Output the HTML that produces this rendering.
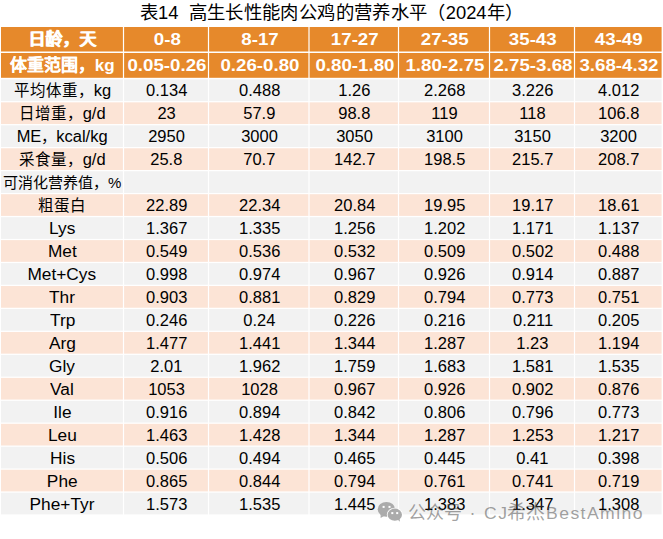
<!DOCTYPE html>
<html lang="zh-CN"><head><meta charset="utf-8">
<style>
html,body{margin:0;padding:0;background:#fff;width:663px;height:539px;overflow:hidden;position:relative}
body{font-family:"Liberation Sans",sans-serif;color:#111}
svg.bg{position:absolute;left:0;top:0}
.t{position:absolute;left:0;top:1px;width:663px;height:27px;line-height:25px;text-align:center;font-size:18px;color:#000;white-space:pre;transform:scaleX(1.02)}
.h,.d{position:absolute;text-align:center;white-space:nowrap}
.h{color:#fff;font-weight:bold;font-size:17px;padding-top:1px;box-sizing:border-box}
.d{font-size:15.5px;color:#000;padding-top:1px;box-sizing:border-box}
.d .n{display:inline-block;transform:translateX(0.7px) scaleX(1.03);font-size:16px}
.h .n{display:inline-block;transform:translateX(1px) scaleX(1.1)}
.cj{text-shadow:0.4px 0 0 #fff}
.d .a{display:inline-block;transform:scaleX(1.08);font-size:16px}
.l{text-align:left}
.cz{font-size:15.5px}
.d .am{transform:scaleX(1.03)}
.wm{position:absolute;top:501px;font-size:17.5px;line-height:24px;color:rgba(70,70,70,0.5);white-space:nowrap}
.ws{display:inline-block;transform-origin:0 50%;transform:scaleX(1.1);font-size:16px;letter-spacing:1.3px}
.wc{font-size:18px}
.wc2{font-size:19px}
</style></head><body>
<svg class="bg" width="663" height="539">
<rect x="1" y="27" width="660.6" height="24.5" fill="#E6892B"/>
<rect x="1" y="53" width="660.6" height="24.799999999999997" fill="#E6892B"/>
<rect x="1" y="79.40" width="660.6" height="21.7" fill="#F2F2F2"/>
<rect x="1" y="102.36" width="660.6" height="21.7" fill="#FCE4D6"/>
<rect x="1" y="125.32" width="660.6" height="21.7" fill="#F2F2F2"/>
<rect x="1" y="148.28" width="660.6" height="21.7" fill="#FCE4D6"/>
<rect x="1" y="171.24" width="660.6" height="21.7" fill="#F2F2F2"/>
<rect x="1" y="194.20" width="660.6" height="21.7" fill="#FCE4D6"/>
<rect x="1" y="217.16" width="660.6" height="21.7" fill="#F2F2F2"/>
<rect x="1" y="240.12" width="660.6" height="21.7" fill="#FCE4D6"/>
<rect x="1" y="263.08" width="660.6" height="21.7" fill="#F2F2F2"/>
<rect x="1" y="286.04" width="660.6" height="21.7" fill="#FCE4D6"/>
<rect x="1" y="309.00" width="660.6" height="21.7" fill="#F2F2F2"/>
<rect x="1" y="331.96" width="660.6" height="21.7" fill="#FCE4D6"/>
<rect x="1" y="354.92" width="660.6" height="21.7" fill="#F2F2F2"/>
<rect x="1" y="377.88" width="660.6" height="21.7" fill="#FCE4D6"/>
<rect x="1" y="400.84" width="660.6" height="21.7" fill="#F2F2F2"/>
<rect x="1" y="423.80" width="660.6" height="21.7" fill="#FCE4D6"/>
<rect x="1" y="446.76" width="660.6" height="21.7" fill="#F2F2F2"/>
<rect x="1" y="469.72" width="660.6" height="21.7" fill="#FCE4D6"/>
<rect x="1" y="492.68" width="660.6" height="21.7" fill="#F2F2F2"/>
<rect x="122.90" y="27" width="1.2" height="490" fill="#fff"/>
<rect x="207.90" y="27" width="1.2" height="490" fill="#fff"/>
<rect x="308.40" y="27" width="1.2" height="490" fill="#fff"/>
<rect x="397.90" y="27" width="1.2" height="490" fill="#fff"/>
<rect x="488.90" y="27" width="1.2" height="490" fill="#fff"/>
<rect x="573.90" y="27" width="1.2" height="490" fill="#fff"/>
</svg>
<div class="t">表14  高生长性能肉公鸡的营养水平（2024年）</div>
<div class="h" style="left:1.0px;width:122.5px;top:27.00px;height:24.50px;line-height:24.50px"><span class="cj">日龄，天</span></div>
<div class="h" style="left:123.5px;width:85.0px;top:27.00px;height:24.50px;line-height:24.50px"><span class="n">0-8</span></div>
<div class="h" style="left:208.5px;width:100.5px;top:27.00px;height:24.50px;line-height:24.50px"><span class="n">8-17</span></div>
<div class="h" style="left:309.0px;width:89.5px;top:27.00px;height:24.50px;line-height:24.50px"><span class="n">17-27</span></div>
<div class="h" style="left:398.5px;width:91.0px;top:27.00px;height:24.50px;line-height:24.50px"><span class="n">27-35</span></div>
<div class="h" style="left:489.5px;width:85.0px;top:27.00px;height:24.50px;line-height:24.50px"><span class="n">35-43</span></div>
<div class="h" style="left:574.5px;width:87.1px;top:27.00px;height:24.50px;line-height:24.50px"><span class="n">43-49</span></div>
<div class="h" style="left:1.0px;width:122.5px;top:53.00px;height:24.80px;line-height:24.80px"><span class="cj">体重范围，</span>kg</div>
<div class="h" style="left:123.5px;width:85.0px;top:53.00px;height:24.80px;line-height:24.80px"><span class="n">0.05-0.26</span></div>
<div class="h" style="left:208.5px;width:100.5px;top:53.00px;height:24.80px;line-height:24.80px"><span class="n">0.26-0.80</span></div>
<div class="h" style="left:309.0px;width:89.5px;top:53.00px;height:24.80px;line-height:24.80px"><span class="n">0.80-1.80</span></div>
<div class="h" style="left:398.5px;width:91.0px;top:53.00px;height:24.80px;line-height:24.80px"><span class="n">1.80-2.75</span></div>
<div class="h" style="left:489.5px;width:85.0px;top:53.00px;height:24.80px;line-height:24.80px"><span class="n">2.75-3.68</span></div>
<div class="h" style="left:574.5px;width:87.1px;top:53.00px;height:24.80px;line-height:24.80px"><span class="n">3.68-4.32</span></div>
<div class="d" style="left:1.0px;width:122.5px;top:79.40px;height:21.70px;line-height:21.70px"><span class="cz">平均体重，</span><span class="a am">kg</span></div>
<div class="d" style="left:123.5px;width:85.0px;top:79.40px;height:21.70px;line-height:21.70px"><span class="n">0.134</span></div>
<div class="d" style="left:208.5px;width:100.5px;top:79.40px;height:21.70px;line-height:21.70px"><span class="n">0.488</span></div>
<div class="d" style="left:309.0px;width:89.5px;top:79.40px;height:21.70px;line-height:21.70px"><span class="n">1.26</span></div>
<div class="d" style="left:398.5px;width:91.0px;top:79.40px;height:21.70px;line-height:21.70px"><span class="n">2.268</span></div>
<div class="d" style="left:489.5px;width:85.0px;top:79.40px;height:21.70px;line-height:21.70px"><span class="n">3.226</span></div>
<div class="d" style="left:574.5px;width:87.1px;top:79.40px;height:21.70px;line-height:21.70px"><span class="n">4.012</span></div>
<div class="d" style="left:1.0px;width:122.5px;top:102.36px;height:21.70px;line-height:21.70px"><span class="cz">日增重，</span><span class="a am">g/d</span></div>
<div class="d" style="left:123.5px;width:85.0px;top:102.36px;height:21.70px;line-height:21.70px"><span class="n">23</span></div>
<div class="d" style="left:208.5px;width:100.5px;top:102.36px;height:21.70px;line-height:21.70px"><span class="n">57.9</span></div>
<div class="d" style="left:309.0px;width:89.5px;top:102.36px;height:21.70px;line-height:21.70px"><span class="n">98.8</span></div>
<div class="d" style="left:398.5px;width:91.0px;top:102.36px;height:21.70px;line-height:21.70px"><span class="n">119</span></div>
<div class="d" style="left:489.5px;width:85.0px;top:102.36px;height:21.70px;line-height:21.70px"><span class="n">118</span></div>
<div class="d" style="left:574.5px;width:87.1px;top:102.36px;height:21.70px;line-height:21.70px"><span class="n">106.8</span></div>
<div class="d" style="left:1.0px;width:122.5px;top:125.32px;height:21.70px;line-height:21.70px"><span class="a am">ME</span><span class="cz">，</span><span class="a am">kcal/kg</span></div>
<div class="d" style="left:123.5px;width:85.0px;top:125.32px;height:21.70px;line-height:21.70px"><span class="n">2950</span></div>
<div class="d" style="left:208.5px;width:100.5px;top:125.32px;height:21.70px;line-height:21.70px"><span class="n">3000</span></div>
<div class="d" style="left:309.0px;width:89.5px;top:125.32px;height:21.70px;line-height:21.70px"><span class="n">3050</span></div>
<div class="d" style="left:398.5px;width:91.0px;top:125.32px;height:21.70px;line-height:21.70px"><span class="n">3100</span></div>
<div class="d" style="left:489.5px;width:85.0px;top:125.32px;height:21.70px;line-height:21.70px"><span class="n">3150</span></div>
<div class="d" style="left:574.5px;width:87.1px;top:125.32px;height:21.70px;line-height:21.70px"><span class="n">3200</span></div>
<div class="d" style="left:1.0px;width:122.5px;top:148.28px;height:21.70px;line-height:21.70px"><span class="cz">采食量，</span><span class="a am">g/d</span></div>
<div class="d" style="left:123.5px;width:85.0px;top:148.28px;height:21.70px;line-height:21.70px"><span class="n">25.8</span></div>
<div class="d" style="left:208.5px;width:100.5px;top:148.28px;height:21.70px;line-height:21.70px"><span class="n">70.7</span></div>
<div class="d" style="left:309.0px;width:89.5px;top:148.28px;height:21.70px;line-height:21.70px"><span class="n">142.7</span></div>
<div class="d" style="left:398.5px;width:91.0px;top:148.28px;height:21.70px;line-height:21.70px"><span class="n">198.5</span></div>
<div class="d" style="left:489.5px;width:85.0px;top:148.28px;height:21.70px;line-height:21.70px"><span class="n">215.7</span></div>
<div class="d" style="left:574.5px;width:87.1px;top:148.28px;height:21.70px;line-height:21.70px"><span class="n">208.7</span></div>
<div class="d l" style="left:3.0px;top:171.24px;height:21.70px;line-height:21.70px"><span style="font-size:15px">可消化营养值，%</span></div>
<div class="d" style="left:1.0px;width:122.5px;top:194.20px;height:21.70px;line-height:21.70px">粗蛋白</div>
<div class="d" style="left:123.5px;width:85.0px;top:194.20px;height:21.70px;line-height:21.70px"><span class="n">22.89</span></div>
<div class="d" style="left:208.5px;width:100.5px;top:194.20px;height:21.70px;line-height:21.70px"><span class="n">22.34</span></div>
<div class="d" style="left:309.0px;width:89.5px;top:194.20px;height:21.70px;line-height:21.70px"><span class="n">20.84</span></div>
<div class="d" style="left:398.5px;width:91.0px;top:194.20px;height:21.70px;line-height:21.70px"><span class="n">19.95</span></div>
<div class="d" style="left:489.5px;width:85.0px;top:194.20px;height:21.70px;line-height:21.70px"><span class="n">19.17</span></div>
<div class="d" style="left:574.5px;width:87.1px;top:194.20px;height:21.70px;line-height:21.70px"><span class="n">18.61</span></div>
<div class="d" style="left:1.0px;width:122.5px;top:217.16px;height:21.70px;line-height:21.70px"><span class="a">Lys</span></div>
<div class="d" style="left:123.5px;width:85.0px;top:217.16px;height:21.70px;line-height:21.70px"><span class="n">1.367</span></div>
<div class="d" style="left:208.5px;width:100.5px;top:217.16px;height:21.70px;line-height:21.70px"><span class="n">1.335</span></div>
<div class="d" style="left:309.0px;width:89.5px;top:217.16px;height:21.70px;line-height:21.70px"><span class="n">1.256</span></div>
<div class="d" style="left:398.5px;width:91.0px;top:217.16px;height:21.70px;line-height:21.70px"><span class="n">1.202</span></div>
<div class="d" style="left:489.5px;width:85.0px;top:217.16px;height:21.70px;line-height:21.70px"><span class="n">1.171</span></div>
<div class="d" style="left:574.5px;width:87.1px;top:217.16px;height:21.70px;line-height:21.70px"><span class="n">1.137</span></div>
<div class="d" style="left:1.0px;width:122.5px;top:240.12px;height:21.70px;line-height:21.70px"><span class="a">Met</span></div>
<div class="d" style="left:123.5px;width:85.0px;top:240.12px;height:21.70px;line-height:21.70px"><span class="n">0.549</span></div>
<div class="d" style="left:208.5px;width:100.5px;top:240.12px;height:21.70px;line-height:21.70px"><span class="n">0.536</span></div>
<div class="d" style="left:309.0px;width:89.5px;top:240.12px;height:21.70px;line-height:21.70px"><span class="n">0.532</span></div>
<div class="d" style="left:398.5px;width:91.0px;top:240.12px;height:21.70px;line-height:21.70px"><span class="n">0.509</span></div>
<div class="d" style="left:489.5px;width:85.0px;top:240.12px;height:21.70px;line-height:21.70px"><span class="n">0.502</span></div>
<div class="d" style="left:574.5px;width:87.1px;top:240.12px;height:21.70px;line-height:21.70px"><span class="n">0.488</span></div>
<div class="d" style="left:1.0px;width:122.5px;top:263.08px;height:21.70px;line-height:21.70px"><span class="a">Met+Cys</span></div>
<div class="d" style="left:123.5px;width:85.0px;top:263.08px;height:21.70px;line-height:21.70px"><span class="n">0.998</span></div>
<div class="d" style="left:208.5px;width:100.5px;top:263.08px;height:21.70px;line-height:21.70px"><span class="n">0.974</span></div>
<div class="d" style="left:309.0px;width:89.5px;top:263.08px;height:21.70px;line-height:21.70px"><span class="n">0.967</span></div>
<div class="d" style="left:398.5px;width:91.0px;top:263.08px;height:21.70px;line-height:21.70px"><span class="n">0.926</span></div>
<div class="d" style="left:489.5px;width:85.0px;top:263.08px;height:21.70px;line-height:21.70px"><span class="n">0.914</span></div>
<div class="d" style="left:574.5px;width:87.1px;top:263.08px;height:21.70px;line-height:21.70px"><span class="n">0.887</span></div>
<div class="d" style="left:1.0px;width:122.5px;top:286.04px;height:21.70px;line-height:21.70px"><span class="a">Thr</span></div>
<div class="d" style="left:123.5px;width:85.0px;top:286.04px;height:21.70px;line-height:21.70px"><span class="n">0.903</span></div>
<div class="d" style="left:208.5px;width:100.5px;top:286.04px;height:21.70px;line-height:21.70px"><span class="n">0.881</span></div>
<div class="d" style="left:309.0px;width:89.5px;top:286.04px;height:21.70px;line-height:21.70px"><span class="n">0.829</span></div>
<div class="d" style="left:398.5px;width:91.0px;top:286.04px;height:21.70px;line-height:21.70px"><span class="n">0.794</span></div>
<div class="d" style="left:489.5px;width:85.0px;top:286.04px;height:21.70px;line-height:21.70px"><span class="n">0.773</span></div>
<div class="d" style="left:574.5px;width:87.1px;top:286.04px;height:21.70px;line-height:21.70px"><span class="n">0.751</span></div>
<div class="d" style="left:1.0px;width:122.5px;top:309.00px;height:21.70px;line-height:21.70px"><span class="a">Trp</span></div>
<div class="d" style="left:123.5px;width:85.0px;top:309.00px;height:21.70px;line-height:21.70px"><span class="n">0.246</span></div>
<div class="d" style="left:208.5px;width:100.5px;top:309.00px;height:21.70px;line-height:21.70px"><span class="n">0.24</span></div>
<div class="d" style="left:309.0px;width:89.5px;top:309.00px;height:21.70px;line-height:21.70px"><span class="n">0.226</span></div>
<div class="d" style="left:398.5px;width:91.0px;top:309.00px;height:21.70px;line-height:21.70px"><span class="n">0.216</span></div>
<div class="d" style="left:489.5px;width:85.0px;top:309.00px;height:21.70px;line-height:21.70px"><span class="n">0.211</span></div>
<div class="d" style="left:574.5px;width:87.1px;top:309.00px;height:21.70px;line-height:21.70px"><span class="n">0.205</span></div>
<div class="d" style="left:1.0px;width:122.5px;top:331.96px;height:21.70px;line-height:21.70px"><span class="a">Arg</span></div>
<div class="d" style="left:123.5px;width:85.0px;top:331.96px;height:21.70px;line-height:21.70px"><span class="n">1.477</span></div>
<div class="d" style="left:208.5px;width:100.5px;top:331.96px;height:21.70px;line-height:21.70px"><span class="n">1.441</span></div>
<div class="d" style="left:309.0px;width:89.5px;top:331.96px;height:21.70px;line-height:21.70px"><span class="n">1.344</span></div>
<div class="d" style="left:398.5px;width:91.0px;top:331.96px;height:21.70px;line-height:21.70px"><span class="n">1.287</span></div>
<div class="d" style="left:489.5px;width:85.0px;top:331.96px;height:21.70px;line-height:21.70px"><span class="n">1.23</span></div>
<div class="d" style="left:574.5px;width:87.1px;top:331.96px;height:21.70px;line-height:21.70px"><span class="n">1.194</span></div>
<div class="d" style="left:1.0px;width:122.5px;top:354.92px;height:21.70px;line-height:21.70px"><span class="a">Gly</span></div>
<div class="d" style="left:123.5px;width:85.0px;top:354.92px;height:21.70px;line-height:21.70px"><span class="n">2.01</span></div>
<div class="d" style="left:208.5px;width:100.5px;top:354.92px;height:21.70px;line-height:21.70px"><span class="n">1.962</span></div>
<div class="d" style="left:309.0px;width:89.5px;top:354.92px;height:21.70px;line-height:21.70px"><span class="n">1.759</span></div>
<div class="d" style="left:398.5px;width:91.0px;top:354.92px;height:21.70px;line-height:21.70px"><span class="n">1.683</span></div>
<div class="d" style="left:489.5px;width:85.0px;top:354.92px;height:21.70px;line-height:21.70px"><span class="n">1.581</span></div>
<div class="d" style="left:574.5px;width:87.1px;top:354.92px;height:21.70px;line-height:21.70px"><span class="n">1.535</span></div>
<div class="d" style="left:1.0px;width:122.5px;top:377.88px;height:21.70px;line-height:21.70px"><span class="a">Val</span></div>
<div class="d" style="left:123.5px;width:85.0px;top:377.88px;height:21.70px;line-height:21.70px"><span class="n">1053</span></div>
<div class="d" style="left:208.5px;width:100.5px;top:377.88px;height:21.70px;line-height:21.70px"><span class="n">1028</span></div>
<div class="d" style="left:309.0px;width:89.5px;top:377.88px;height:21.70px;line-height:21.70px"><span class="n">0.967</span></div>
<div class="d" style="left:398.5px;width:91.0px;top:377.88px;height:21.70px;line-height:21.70px"><span class="n">0.926</span></div>
<div class="d" style="left:489.5px;width:85.0px;top:377.88px;height:21.70px;line-height:21.70px"><span class="n">0.902</span></div>
<div class="d" style="left:574.5px;width:87.1px;top:377.88px;height:21.70px;line-height:21.70px"><span class="n">0.876</span></div>
<div class="d" style="left:1.0px;width:122.5px;top:400.84px;height:21.70px;line-height:21.70px"><span class="a">Ile</span></div>
<div class="d" style="left:123.5px;width:85.0px;top:400.84px;height:21.70px;line-height:21.70px"><span class="n">0.916</span></div>
<div class="d" style="left:208.5px;width:100.5px;top:400.84px;height:21.70px;line-height:21.70px"><span class="n">0.894</span></div>
<div class="d" style="left:309.0px;width:89.5px;top:400.84px;height:21.70px;line-height:21.70px"><span class="n">0.842</span></div>
<div class="d" style="left:398.5px;width:91.0px;top:400.84px;height:21.70px;line-height:21.70px"><span class="n">0.806</span></div>
<div class="d" style="left:489.5px;width:85.0px;top:400.84px;height:21.70px;line-height:21.70px"><span class="n">0.796</span></div>
<div class="d" style="left:574.5px;width:87.1px;top:400.84px;height:21.70px;line-height:21.70px"><span class="n">0.773</span></div>
<div class="d" style="left:1.0px;width:122.5px;top:423.80px;height:21.70px;line-height:21.70px"><span class="a">Leu</span></div>
<div class="d" style="left:123.5px;width:85.0px;top:423.80px;height:21.70px;line-height:21.70px"><span class="n">1.463</span></div>
<div class="d" style="left:208.5px;width:100.5px;top:423.80px;height:21.70px;line-height:21.70px"><span class="n">1.428</span></div>
<div class="d" style="left:309.0px;width:89.5px;top:423.80px;height:21.70px;line-height:21.70px"><span class="n">1.344</span></div>
<div class="d" style="left:398.5px;width:91.0px;top:423.80px;height:21.70px;line-height:21.70px"><span class="n">1.287</span></div>
<div class="d" style="left:489.5px;width:85.0px;top:423.80px;height:21.70px;line-height:21.70px"><span class="n">1.253</span></div>
<div class="d" style="left:574.5px;width:87.1px;top:423.80px;height:21.70px;line-height:21.70px"><span class="n">1.217</span></div>
<div class="d" style="left:1.0px;width:122.5px;top:446.76px;height:21.70px;line-height:21.70px"><span class="a">His</span></div>
<div class="d" style="left:123.5px;width:85.0px;top:446.76px;height:21.70px;line-height:21.70px"><span class="n">0.506</span></div>
<div class="d" style="left:208.5px;width:100.5px;top:446.76px;height:21.70px;line-height:21.70px"><span class="n">0.494</span></div>
<div class="d" style="left:309.0px;width:89.5px;top:446.76px;height:21.70px;line-height:21.70px"><span class="n">0.465</span></div>
<div class="d" style="left:398.5px;width:91.0px;top:446.76px;height:21.70px;line-height:21.70px"><span class="n">0.445</span></div>
<div class="d" style="left:489.5px;width:85.0px;top:446.76px;height:21.70px;line-height:21.70px"><span class="n">0.41</span></div>
<div class="d" style="left:574.5px;width:87.1px;top:446.76px;height:21.70px;line-height:21.70px"><span class="n">0.398</span></div>
<div class="d" style="left:1.0px;width:122.5px;top:469.72px;height:21.70px;line-height:21.70px"><span class="a">Phe</span></div>
<div class="d" style="left:123.5px;width:85.0px;top:469.72px;height:21.70px;line-height:21.70px"><span class="n">0.865</span></div>
<div class="d" style="left:208.5px;width:100.5px;top:469.72px;height:21.70px;line-height:21.70px"><span class="n">0.844</span></div>
<div class="d" style="left:309.0px;width:89.5px;top:469.72px;height:21.70px;line-height:21.70px"><span class="n">0.794</span></div>
<div class="d" style="left:398.5px;width:91.0px;top:469.72px;height:21.70px;line-height:21.70px"><span class="n">0.761</span></div>
<div class="d" style="left:489.5px;width:85.0px;top:469.72px;height:21.70px;line-height:21.70px"><span class="n">0.741</span></div>
<div class="d" style="left:574.5px;width:87.1px;top:469.72px;height:21.70px;line-height:21.70px"><span class="n">0.719</span></div>
<div class="d" style="left:1.0px;width:122.5px;top:492.68px;height:21.70px;line-height:21.70px"><span class="a">Phe+Tyr</span></div>
<div class="d" style="left:123.5px;width:85.0px;top:492.68px;height:21.70px;line-height:21.70px"><span class="n">1.573</span></div>
<div class="d" style="left:208.5px;width:100.5px;top:492.68px;height:21.70px;line-height:21.70px"><span class="n">1.535</span></div>
<div class="d" style="left:309.0px;width:89.5px;top:492.68px;height:21.70px;line-height:21.70px"><span class="n">1.445</span></div>
<div class="d" style="left:398.5px;width:91.0px;top:492.68px;height:21.70px;line-height:21.70px"><span class="n">1.383</span></div>
<div class="d" style="left:489.5px;width:85.0px;top:492.68px;height:21.70px;line-height:21.70px"><span class="n">1.347</span></div>
<div class="d" style="left:574.5px;width:87.1px;top:492.68px;height:21.70px;line-height:21.70px"><span class="n">1.308</span></div>
<svg class="wmi" width="30" height="26" viewBox="374 498 30 26" style="position:absolute;left:374px;top:498px">
<g fill="#ababab">
<ellipse cx="386.4" cy="509.3" rx="8.7" ry="7.4"/>
<path d="M380.6 514.8 L380.6 517.9 L384 516 Z"/>
</g>
<g fill="#fff"><rect x="382.6" y="505.9" width="2" height="2"/><rect x="388.5" y="505.9" width="2" height="2"/></g>
<ellipse cx="394.8" cy="514.7" rx="8" ry="6.9" fill="#fff"/>
<g fill="#ababab">
<ellipse cx="394.8" cy="514.7" rx="7.2" ry="6.1"/>
<path d="M397 519 L400 521.8 L399.5 518 Z"/>
</g>
<g fill="#fff"><rect x="391.3" y="512.1" width="2" height="2"/><rect x="396.2" y="512.1" width="2" height="2"/></g>
</svg>
<div class="wm wc" style="left:407.5px">公众号</div>
<div class="wm wc" style="left:469.5px">·</div>
<div class="wm" style="left:483.5px"><span class="ws">CJ</span></div>
<div class="wm wc2" style="left:507px">希杰</div>
<div class="wm" style="left:545.5px"><span class="ws">BestAmino</span></div>
</body></html>
